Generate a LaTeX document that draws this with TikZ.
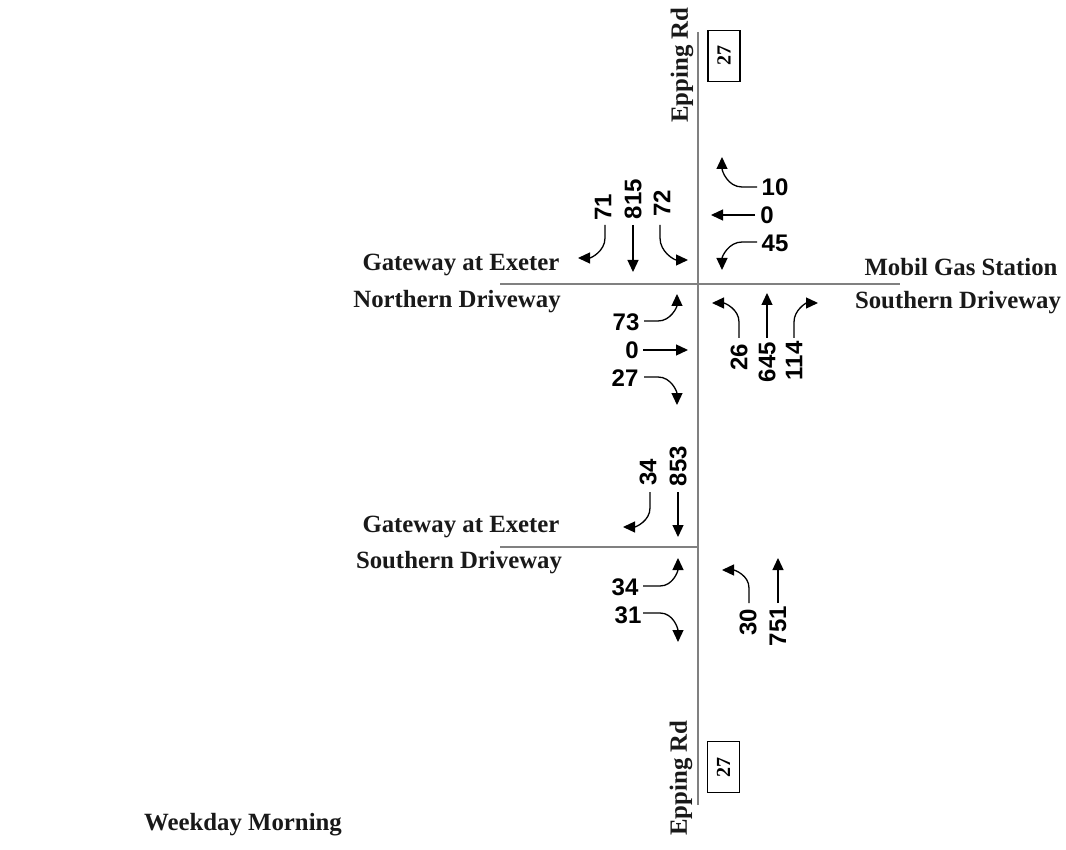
\documentclass[tikz,border=0pt]{standalone}
\usepackage{fontspec}
\setmainfont{Liberation Serif}
\newfontfamily\numfont{Liberation Sans}
\usetikzlibrary{arrows.meta}
\begin{document}
\begin{tikzpicture}[x=1pt,y=-1pt,
  road/.style={draw=black!50,line width=2.4pt},
  arr/.style={draw=black,line width=1.3pt,-{Triangle[length=12pt,width=11pt]}},
  num/.style={font=\numfont\bfseries\fontsize{24}{26}\selectfont,inner sep=0pt},
  vnum/.style={num,rotate=90},
  lbl/.style={font=\bfseries\fontsize{24.8}{28}\selectfont,inner sep=0pt,text=black!90},
  shield/.style={draw=black,line width=1.8pt,rotate=90,minimum width=51pt,minimum height=32pt,
     inner sep=0pt,font=\bfseries\fontsize{20}{22}\selectfont}
]
\useasboundingbox (0,0) rectangle (1066,850);
% roads
\coordinate (rN) at (698,32);
\coordinate (rS) at (698,805);
\coordinate (hW1) at (500,284);
\coordinate (hE1) at (900,284);
\coordinate (hW2) at (500,547);
\coordinate (hE2) at (698,547);
\draw[road] (rN) -- (rS);
\draw[road] (hW1) -- (hE1);
\draw[road] (hW2) -- (hE2);
% road names and shields
\node[lbl,rotate=90] (eppN) at (682,65) {Epping Rd};
\node[lbl,rotate=90] (eppS) at (681,778) {Epping Rd};
\node[shield] (shN) at (724,56) {27};
\node[shield] (shS) at (723.5,767) {27};
\node[lbl] (gw1) at (461,265) {Gateway at Exeter};
\node[lbl] (nd1) at (457,302) {Northern Driveway};
\node[lbl] (mob) at (961,267) {Mobil Gas Station};
\node[lbl] (sd1) at (958,303) {Southern Driveway};
\node[lbl] (gw2) at (461,527) {Gateway at Exeter};
\node[lbl] (sd2) at (459,563) {Southern Driveway};
\node[lbl] (wm) at (243,825) {Weekday Morning};
% northern intersection, southbound
\node[vnum] (n71) at (603,207) {71};
\node[vnum] (n815) at (633,199) {815};
\node[vnum] (n72) at (662,203) {72};
\draw[arr] (605,225) -- (605,238) to[out=-90,in=0] (578,258);
\draw[arr] (633,225) -- (633,272);
\draw[arr] (660,225) -- (660,238) to[out=-90,in=180] (688,260);
% westbound
\node[num] (n10) at (775,187) {10};
\node[num] (n0a) at (767,215) {0};
\node[num] (n45) at (775,243) {45};
\draw[arr] (757,187) -- (742,187) to[out=180,in=-90] (722,157);
\draw[arr] (755,215) -- (711,215);
\draw[arr] (757,242) -- (742,242) to[out=180,in=90] (722,270);
% eastbound
\node[num] (n73) at (626,322) {73};
\node[num] (n0b) at (632,350) {0};
\node[num] (n27) at (625,378) {27};
\draw[arr] (644,321) -- (658,321) to[out=0,in=-90] (677,294);
\draw[arr] (643,350) -- (688,350);
\draw[arr] (644,377) -- (658,377) to[out=0,in=90] (677,405);
% northbound
\node[vnum] (n26) at (739,357) {26};
\node[vnum] (n645) at (767,362) {645};
\node[vnum] (n114) at (794,361) {114};
\draw[arr] (739,338) -- (739,322) to[out=90,in=0] (712,303);
\draw[arr] (767,338) -- (767,293);
\draw[arr] (794,338) -- (794,322) to[out=90,in=180] (818,303);
% southern intersection
\node[vnum] (n34a) at (648,472) {34};
\node[vnum] (n853) at (678,466) {853};
\draw[arr] (650,492) -- (650,508) to[out=-90,in=0] (623,527);
\draw[arr] (678,492) -- (678,537);
\node[num] (n34b) at (625,587) {34};
\node[num] (n31) at (628,615) {31};
\draw[arr] (643,586) -- (660,586) to[out=0,in=-90] (678,558);
\draw[arr] (643,613) -- (660,613) to[out=0,in=90] (678,642);
\node[vnum] (n30) at (748,622) {30};
\node[vnum] (n751) at (778,626) {751};
\draw[arr] (749,603) -- (749,588) to[out=90,in=0] (722,570);
\draw[arr] (778,603) -- (778,558);
\end{tikzpicture}
\end{document}
